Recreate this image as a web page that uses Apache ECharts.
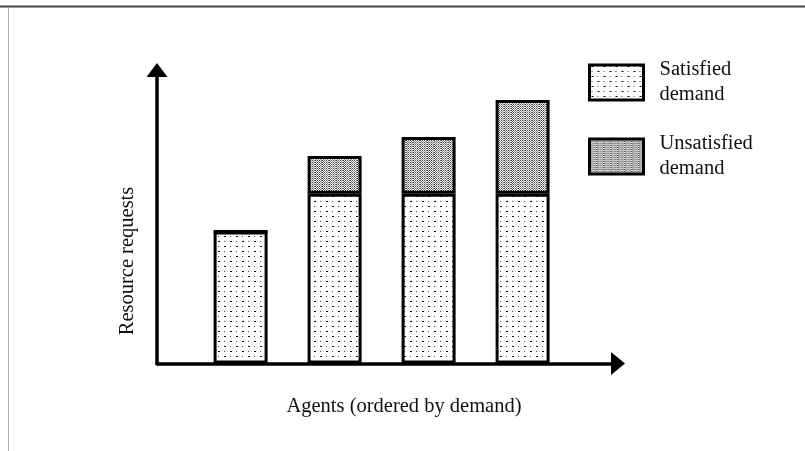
<!DOCTYPE html>
<html>
<head>
<meta charset="utf-8">
<script src="https://cdn.jsdelivr.net/npm/echarts@6/dist/echarts.min.js"></script>
<style>
  html, body { margin: 0; padding: 0; background: #fff; }
  #chart { width: 805px; height: 451px; }
</style>
</head>
<body>
<div id="chart"></div>
<script>
// agents, ordered by demand
const agents = ['A1', 'A2', 'A3', 'A4'];
// resource requests, split into satisfied / unsatisfied part
const satisfied = [45, 57.8, 57.8, 57.8];
const unsatisfied = [0, 12.9, 19.4, 32];
const seriesNames = ['Satisfied demand', 'Unsatisfied demand'];
const legendLabels = ['Satisfied\ndemand', 'Unsatisfied\ndemand'];

// small canvas tiles used as fill patterns
function makeTile(w, h, draw) {
    const c = document.createElement('canvas');
    c.width = w;
    c.height = h;
    draw(c.getContext('2d'));
    return c;
}

// sparse dots
const dotTile = makeTile(12, 10, function (ctx) {
    ctx.fillStyle = '#fff';
    ctx.fillRect(0, 0, 12, 10);
    const dots = [[2, 1, 2, '#000'], [8, 1, 1, '#555'], [2, 6, 1, '#444'], [8, 6, 2, '#111']];
    dots.forEach(function (d) {
        ctx.fillStyle = d[3];
        ctx.fillRect(d[0], d[1], d[2], 1);
    });
});

// dense grey stipple with faint vertical streaks
const denseTile = makeTile(7, 2, function (ctx) {
    const shades = ['#333', '#777', '#555', '#999', '#444', '#888', '#666'];
    for (let x = 0; x < 7; x++) {
        for (let y = 0; y < 2; y++) {
            ctx.fillStyle = (x + y) % 2 === 0 ? shades[x] : '#f4f4f4';
            ctx.fillRect(x, y, 1, 1);
        }
    }
});

const serifFont = '"Liberation Serif", "DejaVu Serif", serif';

let chart = echarts.init(document.getElementById('chart'));

const hiddenAxis = {
    axisLine: { show: false },
    axisTick: { show: false },
    axisLabel: { show: false },
    splitLine: { show: false }
};

let option = {
    animation: false,
    backgroundColor: '#fff',
    grid: [
        // grid with the arrowed axes
        { left: 157, right: 187, top: 70, bottom: 87.5 },
        // grid holding the bars
        { left: 193.6, right: 235.4, top: 70, bottom: 87.5 }
    ],
    xAxis: [
        {
            type: 'value', gridIndex: 0, min: 0, max: 1,
            axisLine: {
                show: true, onZero: false,
                symbol: ['none', 'triangle'], symbolSize: [23, 14],
                lineStyle: { color: '#000', width: 3.5 }
            },
            axisTick: { show: false }, axisLabel: { show: false }, splitLine: { show: false }
        },
        Object.assign({ type: 'category', gridIndex: 1, data: agents }, hiddenAxis)
    ],
    yAxis: [
        {
            type: 'value', gridIndex: 0, min: 0, max: 100,
            axisLine: {
                show: true, onZero: false,
                symbol: ['none', 'triangle'], symbolSize: [21, 14],
                lineStyle: { color: '#000', width: 3.5 }
            },
            axisTick: { show: false }, axisLabel: { show: false }, splitLine: { show: false }
        },
        Object.assign({ type: 'value', gridIndex: 1, min: 0, max: 100 }, hiddenAxis)
    ],
    legend: {
        orient: 'vertical',
        left: 583,
        top: 52.5,
        itemWidth: 54,
        itemHeight: 35,
        itemGap: 24,
        icon: 'rect',
        itemStyle: { borderColor: '#000', borderWidth: 3 },
        formatter: function (name) {
            return legendLabels[seriesNames.indexOf(name)];
        },
        textStyle: {
            fontFamily: serifFont,
            fontSize: 20.5,
            lineHeight: 25,
            color: '#111',
            padding: [0, 0, 0, 11]
        },
        data: seriesNames
    },
    series: [
        {
            name: seriesNames[0],
            type: 'bar',
            xAxisIndex: 1, yAxisIndex: 1,
            stack: 'demand',
            barWidth: 54,
            itemStyle: {
                color: { image: dotTile, repeat: 'repeat' },
                borderColor: '#000',
                borderWidth: 3
            },
            data: satisfied
        },
        {
            name: seriesNames[1],
            type: 'bar',
            xAxisIndex: 1, yAxisIndex: 1,
            stack: 'demand',
            barWidth: 54,
            itemStyle: {
                color: { image: denseTile, repeat: 'repeat' },
                borderColor: '#000',
                borderWidth: 3
            },
            data: unsatisfied
        }
    ],
    graphic: [
        // frame lines of the original figure
        { type: 'line', shape: { x1: 0, y1: 6.5, x2: 805, y2: 6.5 }, style: { stroke: '#444', lineWidth: 2 } },
        { type: 'line', shape: { x1: 8.5, y1: 7, x2: 8.5, y2: 451 }, style: { stroke: '#b0b0b0', lineWidth: 1 } },
        // axis titles
        {
            type: 'text', x: 404, y: 407,
            style: {
                text: 'Agents (ordered by demand)', fontFamily: serifFont, fontSize: 20.5,
                fill: '#111', textAlign: 'center', textVerticalAlign: 'middle'
            }
        },
        {
            type: 'text', x: 128, y: 261, rotation: Math.PI / 2,
            style: {
                text: 'Resource requests', fontFamily: serifFont, fontSize: 20.5,
                fill: '#111', textAlign: 'center', textVerticalAlign: 'middle'
            }
        }
    ]
};

chart.setOption(option);
</script>
</body>
</html>
